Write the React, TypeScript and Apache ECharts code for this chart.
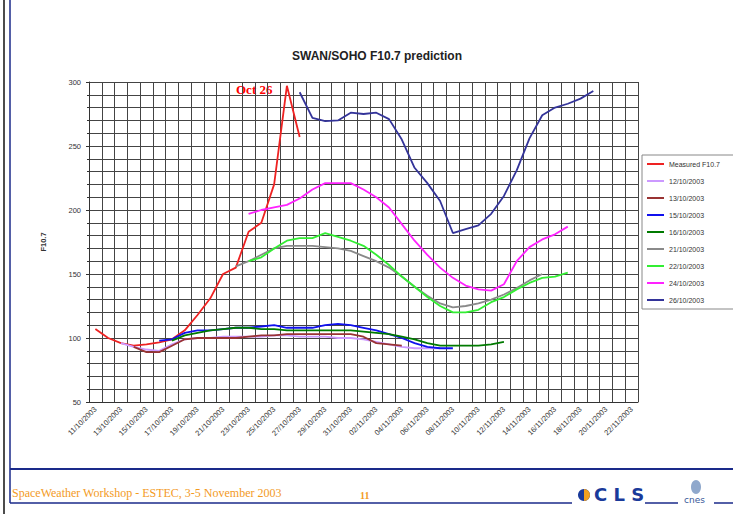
import React, { useEffect, useRef } from "react";
import * as echarts from "echarts";

const categories = [
  "11/10/2003", "12/10/2003", "13/10/2003", "14/10/2003", "15/10/2003", "16/10/2003", "17/10/2003",
  "18/10/2003", "19/10/2003", "20/10/2003", "21/10/2003", "22/10/2003", "23/10/2003", "24/10/2003",
  "25/10/2003", "26/10/2003", "27/10/2003", "28/10/2003", "29/10/2003", "30/10/2003", "31/10/2003",
  "01/11/2003", "02/11/2003", "03/11/2003", "04/11/2003", "05/11/2003", "06/11/2003", "07/11/2003",
  "08/11/2003", "09/11/2003", "10/11/2003", "11/11/2003", "12/11/2003", "13/11/2003", "14/11/2003",
  "15/11/2003", "16/11/2003", "17/11/2003", "18/11/2003", "19/11/2003", "20/11/2003", "21/11/2003",
  "22/11/2003",
];

const seriesNames = [
  "Measured F10.7", "12/10/2003", "13/10/2003", "15/10/2003", "16/10/2003",
  "21/10/2003", "22/10/2003", "24/10/2003", "26/10/2003",
];
const seriesColors = [
  "#ee2222", "#cc99ff", "#993333", "#1010ee", "#007a00",
  "#8a8a8a", "#33ee33", "#ff22ff", "#333399",
];

// start index (into categories) and values of each series
const measuredStart = 0;
const measuredValues = [107, 100, 96, 94, 95, 96.5, 99, 106, 118, 131, 150, 155, 183, 190, 220, 297, 257];
const lilacStart = 2;
const lilacValues = [96, 93, 91, 90, 95, 99, 100, 100, 101, 101, 101, 101, 102, 102, 101, 101, 101, 100, 100, 99, 97, 95, 93, 92, 92, 92];
const brownStart = 3;
const brownValues = [93, 89, 89, 94, 99, 100, 100, 100, 100, 101, 102, 102, 103, 103, 103, 103, 103, 103, 101, 96, 95, 94];
const blueStart = 5;
const blueValues = [98, 99, 104, 106, 106, 107, 108, 108, 109, 110, 108, 108, 108, 110, 111, 110, 108, 106, 103, 100, 96, 93, 92, 92];
const darkGreenStart = 6;
const darkGreenValues = [98, 102, 104, 106, 107, 108, 108, 107, 107, 106, 106, 106, 106, 106, 106, 105, 104, 103, 101, 99, 96, 94, 94, 94, 94, 95, 97];
const grayStart = 11;
const grayValues = [156, 160, 165, 170, 172, 172, 172, 171, 170, 168, 164, 160, 155, 148, 140, 133, 127, 124, 125, 127, 130, 134, 139, 145, 150];
const lightGreenStart = 12;
const lightGreenValues = [160, 163, 170, 176, 178, 178, 182, 179, 176, 172, 165, 157, 148, 140, 132, 125, 120, 120, 122, 128, 132, 138, 143, 147, 148, 151];
const magentaStart = 12;
const magentaValues = [197, 200, 202, 204, 209, 216, 221, 221, 221, 216, 210, 202, 189, 176, 165, 155, 147, 141, 138, 137, 142, 160, 171, 177, 181, 187];
const navyStart = 16;
const navyValues = [292, 272, 269.5, 270, 276, 275, 276, 271, 255, 233, 221, 207, 182, 185, 188, 197, 211, 231, 256, 274, 280, 283, 287, 293];

const starts = [measuredStart, lilacStart, brownStart, blueStart, darkGreenStart, grayStart, lightGreenStart, magentaStart, navyStart];
const valueLists = [measuredValues, lilacValues, brownValues, blueValues, darkGreenValues, grayValues, lightGreenValues, magentaValues, navyValues];

function pad(start: number, values: number[]): (number | null)[] {
  const out: (number | null)[] = categories.map(() => null);
  values.forEach((v, i) => {
    out[start + i] = v;
  });
  return out;
}

export default function App() {
  const ref = useRef<HTMLDivElement>(null);

  useEffect(() => {
    document.body.style.margin = "0";
    const chart = echarts.init(ref.current!, null, { renderer: "svg" });
    const gridColor = "#444";
    chart.setOption({
      animation: false,
      backgroundColor: "#ffffff",
      title: {
        text: "SWAN/SOHO F10.7 prediction",
        left: 372,
        top: 45,
        textAlign: "center",
        textStyle: { fontFamily: "Arial, Liberation Sans", fontSize: 12, fontWeight: "bold", color: "#222" },
      },
      grid: { left: 89, right: 95, top: 82, bottom: 112, containLabel: false },
      legend: {
        orient: "vertical",
        left: 642,
        top: 155,
        data: seriesNames,
        icon: "rect",
        itemWidth: 17,
        itemHeight: 2,
        itemGap: 9,
        padding: [5, 14, 5, 5],
        borderColor: "#888",
        borderWidth: 1,
        backgroundColor: "#fff",
        textStyle: { fontFamily: "Arial, Liberation Sans", fontSize: 7, color: "#333", lineHeight: 8 },
      },
      xAxis: {
        type: "category",
        data: categories,
        boundaryGap: true,
        axisLine: { lineStyle: { color: "#333", width: 1 } },
        axisTick: { interval: 1, length: 4, lineStyle: { color: "#333" } },
        axisLabel: { interval: 1, rotate: 45, fontSize: 7.5, color: "#333", margin: 6, fontFamily: "Arial, Liberation Sans" },
        splitLine: { show: true, interval: 0, lineStyle: { color: gridColor, width: 1 } },
      },
      yAxis: {
        type: "value",
        min: 50,
        max: 300,
        interval: 50,
        name: "F10.7",
        nameLocation: "middle",
        nameGap: 42,
        nameRotate: 90,
        nameTextStyle: { fontSize: 7.5, fontWeight: "bold", color: "#333", fontFamily: "Arial, Liberation Sans" },
        axisLine: { show: true, lineStyle: { color: "#333" } },
        axisTick: { show: true, length: 3, lineStyle: { color: "#333" } },
        minorTick: { show: true, splitNumber: 5, length: 2, lineStyle: { color: "#333" } },
        axisLabel: { fontSize: 7.5, color: "#333", margin: 8, fontFamily: "Arial, Liberation Sans" },
        splitLine: { show: true, lineStyle: { color: gridColor, width: 1 } },
        minorSplitLine: { show: true, lineStyle: { color: gridColor, width: 1 } },
      },
      series: seriesNames.map((name, k) => ({
        name,
        type: "line",
        data: pad(starts[k], valueLists[k]),
        showSymbol: false,
        symbol: "none",
        connectNulls: false,
        lineStyle: { color: seriesColors[k], width: 1.8 },
        itemStyle: { color: seriesColors[k] },
        z: 3 + k,
      })),
      graphic: [
        { type: "line", shape: { x1: 4, y1: 0, x2: 4, y2: 514 }, style: { stroke: "#111", lineWidth: 1.5 } },
        { type: "line", shape: { x1: 10, y1: 0, x2: 10, y2: 503 }, style: { stroke: "#1a2a8a", lineWidth: 1.5 } },
        { type: "line", shape: { x1: 10, y1: 469, x2: 733, y2: 469 }, style: { stroke: "#1a2a8a", lineWidth: 2 } },
        { type: "line", shape: { x1: 10, y1: 503, x2: 572, y2: 503 }, style: { stroke: "#1a2a8a", lineWidth: 1.5 } },
        { type: "line", shape: { x1: 645, y1: 503, x2: 678, y2: 503 }, style: { stroke: "#1a2a8a", lineWidth: 1.5 } },
        { type: "line", shape: { x1: 714, y1: 503, x2: 733, y2: 503 }, style: { stroke: "#1a2a8a", lineWidth: 1.5 } },
        {
          type: "text", left: 236, top: 83,
          style: { text: "Oct 26", fill: "#ff0000", font: "bold 13px 'Liberation Serif', 'Times New Roman', serif" },
        },
        {
          type: "text", left: 12, top: 487,
          style: { text: "SpaceWeather Workshop - ESTEC, 3-5 November 2003", fill: "#f39a1e", font: "12px 'Liberation Serif', 'Times New Roman', serif" },
        },
        {
          type: "text", left: 360, top: 490,
          style: { text: "11", fill: "#f39a1e", font: "bold 10px 'Liberation Serif', 'Times New Roman', serif" },
        },
        { type: "circle", shape: { cx: 584, cy: 495, r: 6 }, style: { fill: "#1a3a9a" } },
        { type: "sector", shape: { cx: 584, cy: 495, r: 6, r0: 0, startAngle: -Math.PI / 2, endAngle: Math.PI / 2 }, style: { fill: "#f0a020" } },
        {
          type: "text", left: 594, top: 485,
          style: { text: "C L S", fill: "#1a3a9a", font: "bold 18px 'DejaVu Sans', sans-serif" },
        },
        { type: "ellipse", shape: { cx: 696, cy: 487, rx: 5, ry: 7 }, style: { fill: "#8fa8cc" } },
        {
          type: "text", left: 684, top: 495,
          style: { text: "cnes", fill: "#3a5a9a", font: "9px 'DejaVu Sans', sans-serif" },
        },
      ],
    });
    return () => chart.dispose();
  }, []);

  return <div ref={ref} style={{ width: 733, height: 514 }} />;
}
